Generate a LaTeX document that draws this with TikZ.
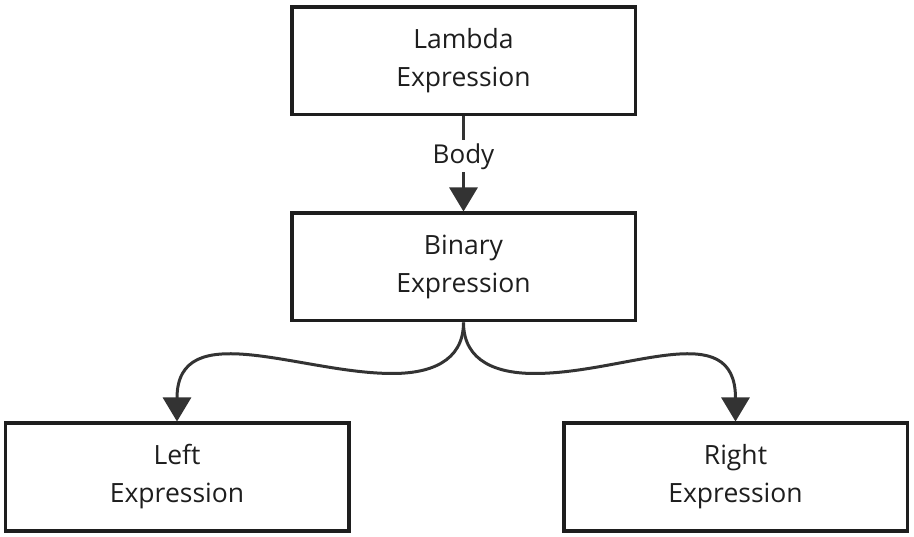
\documentclass[tikz,border=0pt]{standalone}
\usepackage{fontspec}
\setmainfont{Open Sans}
\usepackage{tikz}
\usetikzlibrary{arrows.meta,positioning}

\definecolor{boxline}{HTML}{1E1E1E}
\definecolor{arrline}{HTML}{333333}

\begin{document}
\begin{tikzpicture}[x=1pt,y=-1pt,node distance=95pt,
  exprbox/.style={draw=boxline,line width=3.5pt,minimum width=343.5pt,minimum height=107.5pt,
    align=center,text=boxline,font=\fontsize{26.5}{38}\selectfont},
  link/.style={draw=arrline,line width=3pt,-{Triangle[width=28pt,length=24pt]}}]
\useasboundingbox (0,0) rectangle (914,537);

\node(lambda)[exprbox] at (463.5,61){Lambda\\Expression};

\node(binary)[exprbox,below =of lambda]{Binary\\Expression};

\node(left)[exprbox,below =99pt of binary,xshift=-286.5pt]{Left\\Expression};

\node(right)[exprbox,below =99pt of binary,xshift=272pt]{Right\\Expression};

\draw [link] (lambda) -- (binary) node [pos=0.42,fill=white,text=boxline,inner sep=3pt,
  font=\fontsize{26}{30}\selectfont] (body) {Body};
\draw [link] (binary.south) .. controls +(0,40) and +(36,0) .. ++(-71,51)
  .. controls +(-92,0) and +(0,-106) .. (left.north);
\draw [link] (binary.south) .. controls +(0,40) and +(-36,0) .. ++(71,51)
  .. controls +(92,0) and +(0,-106) .. (right.north);

\end{tikzpicture}
\end{document}
